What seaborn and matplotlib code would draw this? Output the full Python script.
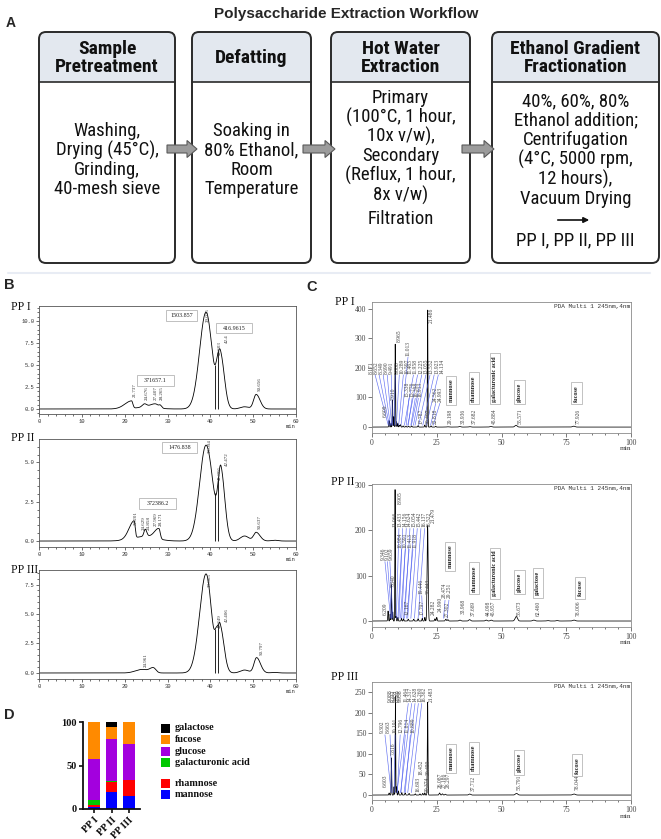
import numpy as np
import matplotlib
matplotlib.use("Agg")
import matplotlib.pyplot as plt
import seaborn as sns
from matplotlib.patches import FancyBboxPatch, Rectangle, Polygon
from matplotlib.ticker import MultipleLocator, FormatStrFormatter
from matplotlib import font_manager as fm

# ============================ DATA ============================
# ---- Panel A (workflow) ----
step_heads = ["Sample\nPretreatment", "Defatting", "Hot Water\nExtraction",
              "Ethanol Gradient\nFractionation"]
step1_lines = ["Washing,", "Drying (45°C),", "Grinding,", "40-mesh sieve"]
step2_lines = ["Soaking in", "80% Ethanol,", "Room", "Temperature"]
step3_lines = ["Primary", "(100°C, 1 hour,", "10x v/w),", "Secondary",
               "(Reflux, 1 hour,", "8x v/w)"]
step3_tail = "Filtration"
step4_lines = ["40%, 60%, 80%", "Ethanol addition;", "Centrifugation",
               "(4°C, 5000 rpm,", "12 hours),", "Vacuum Drying"]
step4_tail = "PP I, PP II, PP III"

# ---- Panel B (GPC chromatograms): peak centre, height, left/right width ----
b1_rt = [21.6, 25.0, 24.6, 27.2, 28.3, 39.0, 41.6, 42.4, 48.0, 50.7]
b1_h = [0.85, 0.2, 0.35, 0.45, 0.3, 11.0, 1.26, 5.78, 0.25, 1.65]
b1_sl = [1.6, 2.5, 0.5, 1.2, 0.3, 1.5, 0.45, 0.65, 1.0, 0.6]
b1_sr = [0.3, 2.5, 0.5, 0.6, 0.35, 1.4, 0.45, 0.9, 1.0, 0.9]
b1_lab = ["21.737", "24.676", "27.407", "28.265", "39.025", "41.603", "42.4", "50.656"]
b1_lab_x = [22.4, 25.2, 27.3, 28.7, 39.5, 42.2, 43.9, 51.6]
b1_lab_y = [1.4, 1.0, 1.0, 1.0, 9.9, 6.1, 7.5, 2.0]
b1_drop = [41.1, 41.9]
b1_boxes = ["1503.857", "416.9615", "371657.1"]

b2_rt = [25.0, 22.2, 24.8, 28.0, 39.0, 41.8, 42.5, 48.0, 50.7, 55.0]
b2_h = [0.3, 1.1, 0.45, 0.65, 6.1, 0.35, 4.11, 0.32, 0.55, 0.05]
b2_sl = [3.0, 1.2, 0.3, 1.0, 1.5, 0.45, 0.6, 1.0, 0.6, 0.8]
b2_sr = [2.5, 0.25, 0.35, 0.3, 1.6, 0.45, 0.9, 1.0, 0.9, 0.8]
b2_lab = ["22.201", "24.629", "24.858", "27.969", "28.171", "39.094", "41.866", "42.472", "50.637"]
b2_lab_x = [22.7, 24.5, 25.5, 27.3, 28.5, 39.8, 42.2, 43.9, 51.5]
b2_lab_y = [1.0, 0.7, 0.7, 0.95, 0.95, 5.6, 3.9, 4.8, 0.75]
b2_drop = [41.0, 41.9]
b2_boxes = ["1476.838", "372386.2"]

b3_rt = [24.0, 26.7, 39.0, 41.4, 42.3, 48.0, 50.8, 55.0]
b3_h = [0.3, 0.4, 8.4, 1.63, 3.73, 0.25, 1.3, 0.05]
b3_sl = [1.5, 0.8, 1.5, 0.4, 0.5, 1.0, 0.6, 0.8]
b3_sr = [1.5, 0.6, 1.3, 0.4, 0.9, 1.0, 0.9, 0.8]
b3_lab = ["24.961", "39.065", "41.349", "42.406", "50.797"]
b3_lab_x = [24.9, 39.8, 42.2, 43.9, 51.9]
b3_lab_y = [0.5, 7.3, 3.8, 4.35, 1.5]
b3_drop = [41.1, 41.9]

# ---- Panel C (PMP-HPLC chromatograms) ----
c1_rt = [6.6, 7.3, 7.9, 8.4, 8.965, 9.5, 10.0, 10.6, 11.0, 12.0, 13.1, 14.1, 15.3, 17.8,
         20.4, 21.486, 22.8, 24.6, 29.2, 33.9, 37.7, 45.9, 55.6, 77.9]
c1_h = [22, 12, 90, 35, 280, 18, 12, 6, 8, 4, 3, 3, 4, 5, 7, 395, 4, 3, 1, 2, 1.5, 2, 6, 3]
c1_w = [.12, .1, .1, .1, .09, .1, .12, .12, .12, .15, .15, .15, .15, .15, .12, .1, .15, .15,
        .35, .35, .35, .4, .45, .5]
c1_lab_text = ["8.171", "8.652", "8.349", "8.690", "9.491", "9.888", "10.289", "10.597",
               "11.013", "11.463", "11.958", "12.225", "13.055", "13.552", "13.923", "14.134",
               "6.609", "7.910", "15.338", "15.776", "16.398", "16.913", "17.787", "20.407",
               "22.818", "24.562", "24.993", "8.965", "21.486"]
c1_lab_x = [1.2, 2.7, 4.1, 5.7, 7.3, 8.9, 10.4, 12.1, 13.9, 16.0, 17.5, 19.2, 20.7, 22.4, 23.9, 25.6,
            5.0, 8.2, 14.3, 15.6, 16.9, 17.9, 19.2, 21.5, 24.6, 24.6, 26.2, 10.4, 23.0]
c1_lab_y = [180, 180, 180, 180, 180, 180, 180, 180, 240, 180, 180, 180, 180, 180, 180, 180,
            33, 91, 101, 101, 101, 101, 12, 12, 12, 84, 84, 288, 350]
c1_lab_px = [6.3, 6.7, 7.1, 7.6, 8.0, 8.6, 9.4, 10.3, 11.2, 12.5, 13.8, 15.2, 16.6, 18.0, 19.6, 21.0,
             np.nan, np.nan, 13.2, 14.0, 15.0, 16.0, np.nan, np.nan, np.nan, 22.6, 23.6, np.nan, np.nan]
c1_comp = ["mannose", "rhamnose", "galacturonic acid", "glucose", "fucose"]
c1_comp_x = [30.5, 39.3, 47.4, 57.0, 79.0]
c1_comp_y = [84, 86, 86, 86, 86]
c1_rt_text = ["29.198", "33.936", "37.682", "45.884", "55.571", "77.926"]
c1_rt_x = [30.4, 35.3, 39.4, 47.1, 57.0, 79.4]
c1_rt_y = [12, 12, 12, 12, 12, 12]

c2_rt = [6.2, 7.0, 7.5, 8.0, 8.905, 9.3, 10.0, 11.4, 12.2, 14.0, 16.1, 17.8, 19.4, 20.4, 21.479,
         24.3, 25.0, 28.5, 29.3, 33.97, 37.7, 44.1, 46.0, 55.7, 62.5, 67.8, 71.5, 78.0]
c2_h = [22, 15, 80, 20, 290, 10, 8, 6, 5, 4, 4, 5, 6, 8, 210, 5, 8, 4, 3, 2, 3, 2, 2, 10, 2, 1, 1, 2]
c2_w = [.12, .1, .1, .1, .09, .1, .12, .12, .12, .15, .15, .15, .12, .12, .2, .15, .15, .2, .2,
        .35, .35, .35, .35, .45, .45, .4, .4, .5]
c2_lab_text = ["9.346", "9.102", "9.659", "13.066", "13.433", "14.156", "14.624", "15.054",
               "15.442", "16.137", "16.522", "10.984", "10.591", "11.413", "11.918",
               "8.905", "21.479", "7.840", "6.209", "12.167", "17.797", "19.446", "20.443",
               "24.282", "24.990", "28.474", "29.251", "27.302"]
c2_lab_x = [5.0, 5.9, 6.9, 10.4, 11.8, 13.2, 14.6, 16.0, 17.5, 18.9, 20.3, 11.4, 12.7, 14.2, 15.8,
            10.8, 23.6, 8.1, 5.0, 13.6, 19.2, 19.2, 21.4, 23.6, 26.2, 28.2, 29.7, 29.0]
c2_lab_y = [135, 135, 135, 208, 208, 208, 208, 208, 208, 208, 208, 162, 162, 162, 162,
            258, 216, 76, 13, 13, 13, 60, 60, 13, 20, 50, 50, 8]
c2_lab_px = [7.2, 7.6, 8.0, 9.4, 10.4, 11.5, 12.6, 13.8, 15.0, 16.4, 17.8, 10.0, 11.0, 12.2, 13.4,
             np.nan, np.nan, np.nan, np.nan, np.nan, np.nan, 19.6, np.nan, np.nan, np.nan, 27.6, 29.0, np.nan]
c2_comp = ["mannose", "rhamnose", "galacturonic acid", "glucose", "galactose", "fucose"]
c2_comp_x = [30.1, 39.4, 47.4, 57.0, 64.0, 80.3]
c2_comp_y = [117, 65, 55, 65, 57, 55]
c2_rt_text = ["33.968", "37.669", "44.098", "45.957", "55.673", "62.460", "78.006"]
c2_rt_x = [35.3, 38.9, 45.0, 47.0, 56.8, 64.0, 79.6]
c2_rt_y = [15, 10, 12, 12, 12, 10, 12]

c3_rt = [6.6, 7.5, 8.5, 9.05, 9.5, 10.2, 11.5, 12.8, 14.3, 16.7, 18.5, 19.6, 20.4, 21.483,
         26.1, 27.2, 28.3, 37.7, 55.8, 78.0]
c3_h = [5, 90, 20, 240, 20, 10, 6, 5, 4, 3, 3, 4, 5, 225, 5, 3, 2, 2.5, 4, 2.5]
c3_w = [.12, .1, .1, .09, .1, .12, .12, .15, .15, .15, .15, .15, .12, .12, .2, .2, .2, .35, .45, .5]
c3_lab_text = ["11.464", "14.317", "14.628", "15.260", "16.362",
               "9.302", "8.663", "10.191", "12.796", "11.814", "10.889",
               "9.088", "9.232", "9.451", "9.589", "9.958", "21.483", "7.816", "6.603",
               "18.452", "20.459", "16.693", "20.374", "26.087", "27.186", "28.297",
               "37.712", "55.791", "78.044"]
c3_lab_x = [14.0, 15.3, 16.6, 17.9, 19.2, 5.0, 6.3, 8.2, 10.5, 12.7, 14.8,
            7.9, 8.5, 9.1, 9.7, 10.3, 23.0, 8.0, 5.0, 19.2, 21.3, 17.9, 21.3, 26.9, 27.9, 28.9,
            38.9, 56.8, 79.0]
c3_lab_y = [226, 226, 226, 226, 226, 150, 150, 150, 150, 150, 150,
            226, 226, 226, 226, 226, 226, 96, 20, 49, 49, 8, 8, 17, 17, 17, 10, 12, 12]
c3_lab_px = [9.6, 11.0, 12.4, 13.8, 15.2, 7.4, 7.8, 8.6, 9.8, 11.2, 12.8] + [np.nan] * 18
c3_comp = ["mannose", "rhamnose", "glucose", "fucose"]
c3_comp_x = [30.5, 39.3, 56.8, 79.2]
c3_comp_y = [60, 58, 56, 52]

# ---- Panel D (monosaccharide composition, %) ----
fractions = ["PP I", "PP II", "PP III"]
sugar_names = ["mannose", "rhamnose", "galacturonic acid", "glucose", "fucose", "galactose"]
sugar_colors = ["#0000FF", "#FF0000", "#00C800", "#A300DE", "#FF8A00", "#000000"]
mannose = [2.5, 19.0, 15.5]
rhamnose = [2.0, 12.0, 18.0]
galacturonic_acid = [5.5, 1.0, 0.0]
glucose = [48.0, 48.0, 41.0]
fucose = [42.0, 14.0, 25.5]
galactose = [0.0, 6.0, 0.0]

# ============================ STYLE ============================
sns.set_style("white")
plt.rcParams["font.family"] = ["Liberation Sans", "DejaVu Sans"]


def find_narrow():
    order = ["Liberation Sans Narrow", "Arial Narrow", "Noto Sans Condensed",
             "Roboto Condensed", "Open Sans Condensed", "Noto Sans", "Open Sans", "Roboto"]

    def wt(f):
        try:
            return int(f.weight)
        except Exception:
            return {"bold": 700, "normal": 400, "regular": 400, "book": 400,
                    "medium": 500}.get(str(f.weight).lower(), 400)

    for name in order:
        fs = [f for f in fm.fontManager.ttflist if f.name == name and f.style == "normal"]
        if not ("Narrow" in name or "Condensed" in name):
            fs = [f for f in fs if str(f.stretch) in ("condensed", "semi-condensed")]
        if not fs:
            continue
        regs = [f for f in fs if wt(f) in (400, 500)]
        bolds = [f for f in fs if wt(f) >= 600]
        if regs and bolds:
            b = sorted(bolds, key=lambda f: abs(wt(f) - 700))[0]
            return regs[0].fname, b.fname
    return None, None


NR, NB = find_narrow()
if NR:
    fpH = fm.FontProperties(fname=NB, size=14)
    fpB = fm.FontProperties(fname=NR, size=13.5)
else:
    fpH = fm.FontProperties(family="Liberation Sans", weight="bold", size=11.5)
    fpB = fm.FontProperties(family="Liberation Sans", size=11)

W, H = 661, 839
fig = plt.figure(figsize=(W / 100, H / 100), dpi=100)


def rect(l, t, r, b):
    return [l / W, 1 - b / H, (r - l) / W, (b - t) / H]


ov = fig.add_axes([0, 0, 1, 1])
ov.set_xlim(0, W)
ov.set_ylim(H, 0)
ov.axis("off")

# ============================ PANEL A ============================
ov.text(346, 14, "Polysaccharide Extraction Workflow", ha="center", va="center",
        fontsize=11, weight="bold")
ov.text(6, 23, "A", ha="left", va="center", fontsize=10, weight="bold")
box_x = [(39, 175), (192, 311), (331, 470), (492, 659)]
top, hdr, bot = 32, 82, 263
for (l, r), head in zip(box_x, step_heads):
    p = FancyBboxPatch((l, top), r - l, bot - top, boxstyle="round,pad=0,rounding_size=7",
                       fc="white", ec="none", zorder=2)
    ov.add_patch(p)
    hr = Rectangle((l, top), r - l, hdr - top, fc="#E3E8EF", ec="none", zorder=2.1)
    ov.add_patch(hr)
    hr.set_clip_path(p)
    ov.plot([l, r], [hdr, hdr], color="#2a2a2a", lw=1.2, zorder=3)
    ov.add_patch(FancyBboxPatch((l, top), r - l, bot - top, boxstyle="round,pad=0,rounding_size=7",
                                fc="none", ec="#2a2a2a", lw=1.4, zorder=4))
    ov.text((l + r) / 2, (top + hdr) / 2 + 1, head, ha="center", va="center",
            fontproperties=fpH, linespacing=1.0, zorder=5, color="#111")


def lines_at(xc, y0, step, lines):
    for i, s in enumerate(lines):
        ov.text(xc, y0 + i * step, s, ha="center", va="center", fontproperties=fpB,
                zorder=5, color="#111")


lines_at(107, 131, 19.4, step1_lines)
lines_at(251.5, 131, 19.4, step2_lines)
lines_at(400.5, 98, 19.4, step3_lines)
ov.text(400.5, 219, step3_tail, ha="center", va="center", fontproperties=fpB, zorder=5, color="#111")
lines_at(575.5, 101, 19.5, step4_lines)
ov.annotate("", xy=(592, 220), xytext=(555, 220),
            arrowprops=dict(arrowstyle="-|>", lw=1.2, color="#111", mutation_scale=8), zorder=5)
ov.text(575.5, 240, step4_tail, ha="center", va="center", fontproperties=fpB, zorder=5, color="#111")


def fat_arrow(x0, x1, y, shaft=8, head=17, hl=10):
    pts = [(x0, y - shaft / 2), (x1 - hl, y - shaft / 2), (x1 - hl, y - head / 2), (x1, y),
           (x1 - hl, y + head / 2), (x1 - hl, y + shaft / 2), (x0, y + shaft / 2)]
    ov.add_patch(Polygon(pts, closed=True, fc="#9c9c9c", ec="#5a5a5a", lw=0.8, zorder=6))


fat_arrow(167, 197, 149)
fat_arrow(303, 335, 149)
fat_arrow(462, 494, 149)

ov.plot([8, 650], [273, 273], color="#E8ECF4", lw=1.5, zorder=1)


# ============================ helpers ============================
def asym_curve(t, rt, h, sl, sr):
    y = np.zeros_like(t)
    for c, hh, a, b in zip(rt, h, sl, sr):
        s = np.where(t < c, a, b)
        y = y + hh * np.exp(-0.5 * ((t - c) / s) ** 2)
    return y


def place_labels(ax, texts, xs, ys, fs, gap_max, ppu, **kw):
    """Rotated peak labels; tightly packed neighbours share one multi-line text."""
    idx = sorted(range(len(texts)), key=lambda i: (ys[i], xs[i]))
    groups = []
    for i in idx:
        if groups and ys[groups[-1][-1]] == ys[i] and xs[i] - xs[groups[-1][-1]] < gap_max:
            groups[-1].append(i)
        else:
            groups.append([i])
    actual = list(xs)
    fs_px = fs * 100 / 72
    for g in groups:
        if len(g) == 1:
            i = g[0]
            ax.text(xs[i], ys[i], texts[i], rotation=90, ha="center", va="bottom",
                    fontsize=fs, clip_on=False, **kw)
        else:
            x0, x1 = xs[g[0]], xs[g[-1]]
            step = (x1 - x0) / (len(g) - 1)
            ls = step * ppu / (0.69 * fs_px)
            ax.text((x0 + x1) / 2, ys[g[0]], "\n".join(texts[i] for i in g), rotation=90,
                    ha="center", va="bottom", multialignment="left", linespacing=ls,
                    fontsize=fs, clip_on=False, **kw)
            for k, i in enumerate(g):
                actual[i] = x0 + k * step
    return actual


# ============================ PANEL B ============================
ov.text(4, 285, "B", ha="left", va="center", fontsize=10.5, weight="bold")
tB = np.linspace(0, 60, 6001)
B_PPU = 257 / 60.0


def draw_B(box, ylim, yticks, rt, h, sl, sr, labs, lx, ly, drops):
    ax = fig.add_axes(rect(*box))
    yv = asym_curve(tB, rt, h, sl, sr)
    sns.lineplot(x=tB, y=yv, ax=ax, color="black", linewidth=0.6, estimator=None, sort=False)
    ax.vlines(drops, 0, np.interp(drops, tB, yv), color="black", lw=0.6)
    place_labels(ax, labs, lx, ly, 3.6, 1.5, B_PPU, family="Liberation Serif", color="#333")
    ax.set_xlim(0, 60)
    ax.set_ylim(*ylim)
    ax.set_xticks(range(0, 61, 10))
    ax.xaxis.set_minor_locator(MultipleLocator(2))
    ax.set_yticks(yticks)
    ax.yaxis.set_minor_locator(MultipleLocator(0.5))
    ax.yaxis.set_major_formatter(FormatStrFormatter("%.1f"))
    ax.tick_params(which="both", direction="out", bottom=True, left=True, width=0.5,
                   colors="#333", labelsize=4, pad=1, labelfontfamily="Liberation Mono")
    ax.tick_params(which="major", length=2.5)
    ax.tick_params(which="minor", length=1.2)
    for s in ax.spines.values():
        s.set_linewidth(0.6)
        s.set_color("#555")
    ax.set_xlabel("")
    ax.set_ylabel("")
    ov.text(box[2], box[3] + 12.5, "min", ha="right", va="center", fontsize=4,
            family="Liberation Mono", color="#333")
    return ax


draw_B((39, 306, 296, 414), (-0.57, 11.7), [0, 2.5, 5, 7.5, 10], b1_rt, b1_h, b1_sl, b1_sr,
       b1_lab, b1_lab_x, b1_lab_y, b1_drop)
draw_B((39, 439, 296, 547), (-0.38, 6.49), [0, 2.5, 5], b2_rt, b2_h, b2_sl, b2_sr,
       b2_lab, b2_lab_x, b2_lab_y, b2_drop)
draw_B((39, 570, 296, 679), (-0.51, 8.73), [0, 2.5, 5, 7.5], b3_rt, b3_h, b3_sl, b3_sr,
       b3_lab, b3_lab_x, b3_lab_y, b3_drop)

for y, s in [(307, "PP I"), (438, "PP II"), (570, "PP III")]:
    ov.text(11, y, s, ha="left", va="center", fontsize=8.5, family="Liberation Serif", color="#111")

# ============================ PANEL C ============================
ov.text(306, 287, "C", ha="left", va="center", fontsize=10.5, weight="bold")
tC = np.linspace(0, 100, 10001)
C_PPU = 259 / 100.0
C_FS = 4.0


def draw_C(box, ylim, yticks, rt, h, w, lab_t, lab_x, lab_y, lab_px,
           comp, comp_x, comp_y, rtt=None, rtx=None, rty=None):
    ax = fig.add_axes(rect(*box))
    yv = asym_curve(tC, rt, h, w, w)
    sns.lineplot(x=tC, y=yv, ax=ax, color="black", linewidth=0.55, estimator=None, sort=False)
    ax_x = place_labels(ax, lab_t, lab_x, lab_y, C_FS, 2.35, C_PPU,
                        family="Liberation Serif", color="#444")
    for lx, ly, px in zip(ax_x, lab_y, lab_px):
        if not np.isnan(px):
            ax.plot([lx, px], [ly - 4, 6], color="#4f5ff0", lw=0.45, alpha=0.9)
    if rtt is not None:
        place_labels(ax, rtt, rtx, rty, C_FS, 1.0, C_PPU, family="Liberation Serif", color="#444")
    for s, x, y in zip(comp, comp_x, comp_y):
        ax.text(x, y, s, rotation=90, ha="center", va="bottom", fontsize=4.4,
                family="Liberation Serif", weight="bold", color="#222",
                bbox=dict(boxstyle="square,pad=0.45", fc="white", ec="#aaaaaa", lw=0.5))
    ax.text(0.997, 0.985, "PDA Multi 1 245nm,4nm", transform=ax.transAxes, ha="right",
            va="top", fontsize=4.4, family="Liberation Mono", color="#333")
    ax.set_xlim(0, 100)
    ax.set_ylim(*ylim)
    ax.set_xticks([0, 25, 50, 75, 100])
    ax.xaxis.set_minor_locator(MultipleLocator(5))
    ax.set_yticks(yticks)
    ax.tick_params(which="both", direction="out", bottom=True, left=True, width=0.5,
                   colors="#444", labelsize=5.5, pad=1.2, labelfontfamily="Liberation Serif")
    ax.tick_params(which="major", length=3)
    ax.tick_params(which="minor", length=1.5)
    for s in ax.spines.values():
        s.set_linewidth(0.6)
        s.set_color("#8a8a8a")
    ax.set_xlabel("")
    ax.set_ylabel("")
    ov.text(box[2], box[3] + 16, "min", ha="right", va="center", fontsize=5.2,
            family="Liberation Serif", color="#333")
    return ax


draw_C((372, 302, 631, 433), (-20, 422), [0, 100, 200, 300, 400], c1_rt, c1_h, c1_w,
       c1_lab_text, c1_lab_x, c1_lab_y, c1_lab_px,
       c1_comp, c1_comp_x, c1_comp_y, c1_rt_text, c1_rt_x, c1_rt_y)
draw_C((372, 484, 631, 627), (-13.2, 302), [0, 100, 200, 300], c2_rt, c2_h, c2_w,
       c2_lab_text, c2_lab_x, c2_lab_y, c2_lab_px,
       c2_comp, c2_comp_x, c2_comp_y, c2_rt_text, c2_rt_x, c2_rt_y)
draw_C((372, 682, 631, 800), (-12, 274), [0, 50, 100, 150, 200, 250], c3_rt, c3_h, c3_w,
       c3_lab_text, c3_lab_x, c3_lab_y, c3_lab_px,
       c3_comp, c3_comp_x, c3_comp_y)

for y, x, s in [(302, 335, "PP I"), (482, 331, "PP II"), (677, 331, "PP III")]:
    ov.text(x, y, s, ha="left", va="center", fontsize=8.5, family="Liberation Serif", color="#111")

# ============================ PANEL D ============================
ov.text(4, 715, "D", ha="left", va="center", fontsize=10.5, weight="bold")
axD = fig.add_axes(rect(82.6, 722, 140.4, 809))
layers = np.array([mannose, rhamnose, galacturonic_acid, glucose, fucose, galactose])
cum = np.cumsum(layers, axis=0)
for i in reversed(range(len(sugar_names))):
    sns.barplot(x=fractions, y=cum[i], color=sugar_colors[i], width=0.68, saturation=1,
                ax=axD, edgecolor="none", linewidth=0)
axD.set_xlim(-0.65, 2.65)
axD.set_ylim(0, 100)
axD.set_yticks([0, 50, 100])
sns.despine(ax=axD)
for s in ["left", "bottom"]:
    axD.spines[s].set_linewidth(1.3)
    axD.spines[s].set_color("#111")
axD.tick_params(direction="out", bottom=True, left=True, length=3, width=1.2,
                colors="#111", pad=1.5)
axD.set_xlabel("")
axD.set_ylabel("")
for lab in axD.get_yticklabels():
    lab.set_fontfamily("Liberation Serif")
    lab.set_fontweight("bold")
    lab.set_fontsize(7.5)
for lab in axD.get_xticklabels():
    lab.set_fontfamily("Liberation Serif")
    lab.set_fontweight("bold")
    lab.set_fontsize(7.3)
    lab.set_rotation(45)
    lab.set_ha("right")
    lab.set_rotation_mode("anchor")

# ============================ top overlay (boxes & legend) ============================
top_ov = fig.add_axes([0, 0, 1, 1])
top_ov.set_xlim(0, W)
top_ov.set_ylim(H, 0)
top_ov.axis("off")


def num_box(l, t, r, b, s):
    top_ov.add_patch(Rectangle((l, t), r - l, b - t, fc="white", ec="#b5b5b5", lw=0.6, zorder=7))
    top_ov.text((l + r) / 2, (t + b) / 2, s, ha="center", va="center", fontsize=4.3,
                family="Liberation Serif", color="#222", zorder=8)


num_box(166, 310, 197, 321, b1_boxes[0])
num_box(216, 323, 252, 333, b1_boxes[1])
num_box(137, 375, 174, 386, b1_boxes[2])
num_box(162, 442, 197, 453, b2_boxes[0])
num_box(139, 498, 176, 509, b2_boxes[1])

leg_order = [5, 4, 3, 2, 1, 0]
leg_y = [728, 739.5, 751, 762.5, 783, 794.5]
for i, y in zip(leg_order, leg_y):
    top_ov.add_patch(Rectangle((161, y - 4.5), 9, 9, fc=sugar_colors[i], ec="none"))
    top_ov.text(175, y, sugar_names[i], ha="left", va="center", fontsize=7.3,
                family="Liberation Serif", weight="bold", color="#111")

fig.savefig("out.png", dpi=100)
